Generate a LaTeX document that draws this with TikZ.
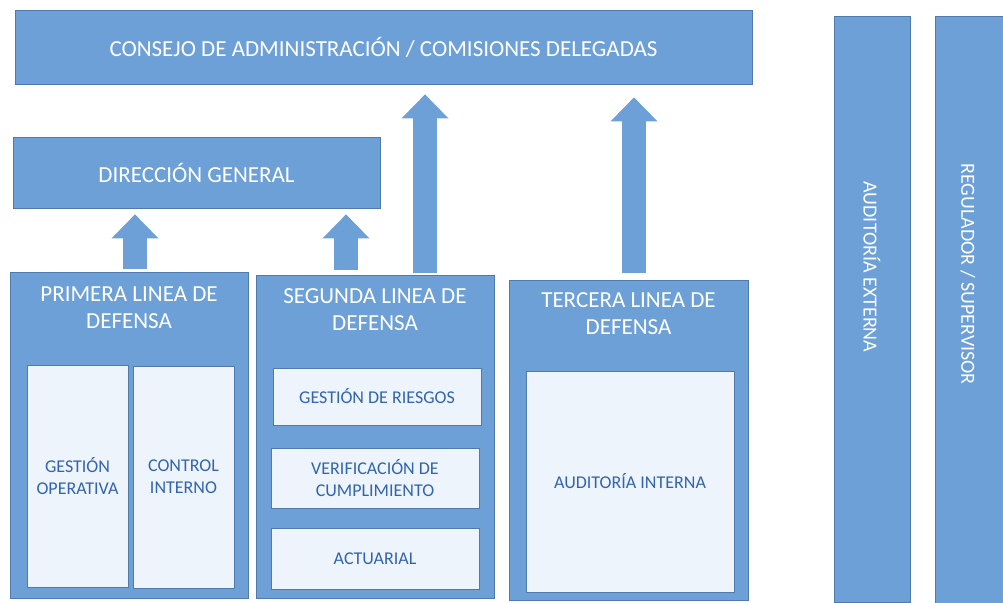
\documentclass[tikz,border=0pt]{standalone}
\usepackage{fontspec}
\setmainfont{Carlito}
\usetikzlibrary{arrows.meta,
                positioning}
\definecolor{azul}{RGB}{108,160,214}
\definecolor{azulborde}{RGB}{80,122,172}
\definecolor{celeste}{RGB}{237,244,251}
\definecolor{azultexto}{RGB}{50,100,175}

\begin{document}
\begin{tikzpicture}[x=1pt,y=-1pt,
                    caja/.style={draw=azulborde,fill=azul,line width=0.8pt,inner sep=0pt,
                                 text=white,font=\fontsize{23}{27.5}\selectfont},
                    titulo/.style={align=center,text=white,inner sep=0pt,
                                   font=\fontsize{23}{27.5}\selectfont},
                    interior/.style={draw=azulborde,fill=celeste,line width=0.6pt,inner sep=0pt,
                                     align=center,text=azultexto,font=\fontsize{18}{22}\selectfont},
                    vertical/.style={rotate=-90,text=white,inner sep=0pt,font=\fontsize{20}{24}\selectfont},
                    flecha/.style={draw=azul,line width=24pt,
                                   -{Triangle[width=47pt,length=24pt,line width=0pt]}}]
   \useasboundingbox (0,0) rectangle (1003,602);
   % consejo y direccion
   \node (consejo) [caja,minimum width=737pt,minimum height=74pt] at (383.5,47)
     {CONSEJO DE ADMINISTRACIÓN / COMISIONES DELEGADAS};
   \node (direccion) [caja,minimum width=367pt,minimum height=71pt] at (196.5,172.5)
     {DIRECCIÓN GENERAL};
   % lineas de defensa
   \node (primera) [caja,minimum width=238pt,minimum height=326pt] at (129,435) {};
   \node (segunda) [caja,minimum width=238pt,minimum height=323pt] at (375,436.5) {};
   \node (tercera) [caja,minimum width=239pt,minimum height=320pt] at (628.5,440) {};
   \node (tprimera) [titulo] at ([yshift=-36pt]primera.north) {PRIMERA LINEA DE\\DEFENSA};
   \node (tsegunda) [titulo] at ([yshift=-35pt]segunda.north) {SEGUNDA LINEA DE\\DEFENSA};
   \node (ttercera) [titulo] at ([yshift=-34pt]tercera.north) {TERCERA LINEA DE\\DEFENSA};
   \node (gesop) [interior,minimum width=101pt,minimum height=222pt] at (77.5,476) {GESTIÓN\\OPERATIVA};
   \node (ctrlint) [interior,minimum width=101pt,minimum height=222pt] at (183.5,477) {CONTROL\\INTERNO};
   \node (riesgos) [interior,minimum width=208pt,minimum height=57pt] at (377,396.5) {GESTIÓN DE RIESGOS};
   \node (verif) [interior,minimum width=208pt,minimum height=60pt] at (375,478) {VERIFICACIÓN DE\\CUMPLIMIENTO};
   \node (actuarial) [interior,minimum width=208pt,minimum height=61pt] at (375,558.5) {ACTUARIAL};
   \node (audint) [interior,minimum width=208pt,minimum height=221pt] at (630,481.5) {AUDITORÍA INTERNA};
   % externos
   \node (audext) [caja,minimum width=76pt,minimum height=586pt] at (872,309) {};
   \node (regulador) [caja,minimum width=76pt,minimum height=590pt] at (973,311.5) {};
   \node (taudext) [vertical] at ([yshift=42pt]audext.center) {AUDITORÍA EXTERNA};
   \node (tregulador) [vertical] at ([xshift=-5pt,yshift=37.5pt]regulador.center) {REGULADOR / SUPERVISOR};
   % flechas
   \draw [flecha,shorten <=3pt,shorten >=6pt] ([xshift=6pt]primera.north) -- ([xshift=6pt]primera.north |- direccion.south);
   \draw [flecha,shorten <=5pt,shorten >=6pt] ([xshift=-29pt]segunda.north) -- ([xshift=-29pt]segunda.north |- direccion.south);
   \draw [flecha,shorten <=2pt,shorten >=10pt] ([xshift=50pt]segunda.north) -- ([xshift=50pt]segunda.north |- consejo.south);
   \draw [flecha,shorten <=7pt,shorten >=13pt] ([xshift=5.5pt]tercera.north) -- ([xshift=5.5pt]tercera.north |- consejo.south);
\end{tikzpicture}
\end{document}
